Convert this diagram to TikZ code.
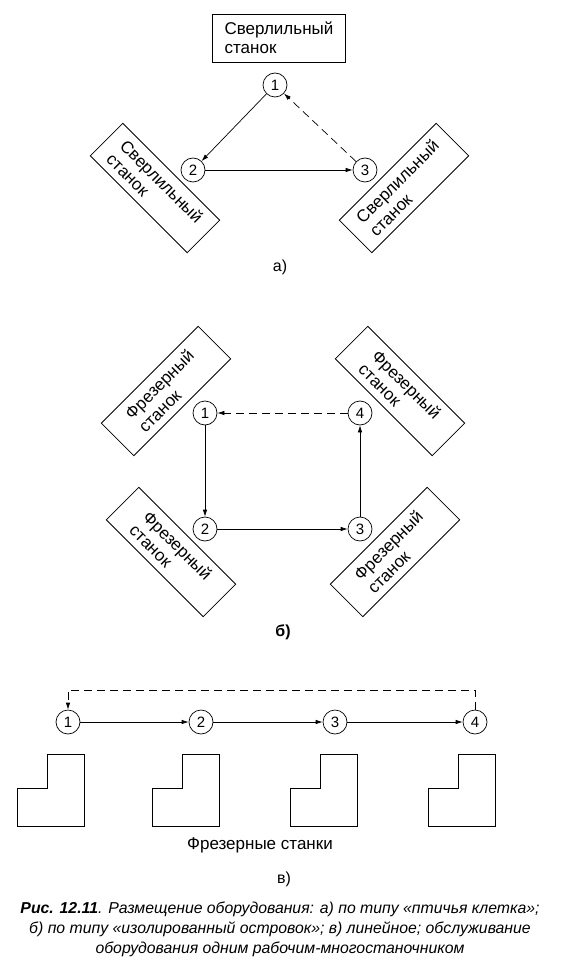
\documentclass[tikz,border=0pt]{standalone}
\usepackage{fontspec}
\setmainfont{Liberation Sans}
\usetikzlibrary{arrows.meta}
\tikzset{
  %% machine boxes
  stanok/.style={rectangle, draw, line width=0.8pt, minimum width=137pt,
                 minimum height=46pt, align=left, inner sep=2pt,
                 font=\fontsize{17}{19}\selectfont},
  %% work positions
  wpos/.style={circle, draw, line width=0.7pt, minimum size=24pt,
              inner sep=0pt, font=\fontsize{15}{15}\selectfont},
  %% connectors
  flow/.style={-{Latex[length=7pt,width=4.5pt]}, line width=0.7pt},
  back/.style={flow, dash pattern=on 8pt off 5pt},
  lmach/.style={draw, line width=0.9pt},
  lbl/.style={font=\fontsize{16}{18}\selectfont},
}

\begin{document}
\begin{tikzpicture}[x=1pt, y=-1pt]
\useasboundingbox (0,0) rectangle (560,973);

%% =============================================================
%%  a)  bird cage
%% =============================================================
\node[stanok, minimum width=133pt, minimum height=48pt] (aTop) at (279,38)
  {Сверлильный\\станок};
\node[stanok, rotate=-45] (aLeft)  at (155,188) {Сверлильный\\станок};
\node[stanok, rotate=45]  (aRight) at (404,188) {Сверлильный\\станок};

\node[wpos] (a1) at (275,85)  {1};
\node[wpos] (a2) at (193,170) {2};
\node[wpos] (a3) at (365,170) {3};

\draw[flow] (a1) -- (a2);
\draw[flow] (a2) -- (a3);
\draw[back] (a3) -- (a1);

\node[lbl] (aCap) at (280,267) {а)};

%% =============================================================
%%  b)  isolated island
%% =============================================================
\node[stanok, rotate=45]  (bTL) at (166,391) {Фрезерный\\станок};
\node[stanok, rotate=-45] (bTR) at (400,391) {Фрезерный\\станок};
\node[stanok, rotate=-45] (bBL) at (171,552) {Фрезерный\\станок};
\node[stanok, rotate=45]  (bBR) at (395,552) {Фрезерный\\станок};

\node[wpos] (b1) at (205,413) {1};
\node[wpos] (b4) at (360,413) {4};
\node[wpos] (b2) at (205,529) {2};
\node[wpos] (b3) at (360,529) {3};

\draw[flow] (b1) -- (b2);
\draw[flow] (b2) -- (b3);
\draw[flow] (b3) -- (b4);
\draw[back] (b4) -- (b1);

\node[lbl, font=\bfseries\fontsize{16}{18}\selectfont] (bCap) at (283,632) {б)};

%% =============================================================
%%  c)  linear
%% =============================================================
\node[wpos] (c1) at (68,722)  {1};
\node[wpos] (c2) at (201,722) {2};
\node[wpos] (c3) at (335,722) {3};
\node[wpos] (c4) at (475,722) {4};

\draw[flow] (c1) -- (c2);
\draw[flow] (c2) -- (c3);
\draw[flow] (c3) -- (c4);
\coordinate (cTop) at (68,690);
\draw[back] (c4.north) |- (cTop) -- (c1.north);

%% -- L-shaped milling machines --
\foreach \mx in {17,152,290,428}{
  \draw[lmach] (\mx+30,754) -- (\mx+67,754) -- (\mx+67,826)
               -- (\mx,826) -- (\mx,788) -- (\mx+30,788) -- cycle;
}

\node[lbl, font=\fontsize{17}{19}\selectfont] (cName) at (260,845) {Фрезерные станки};
\node[lbl] (cCap)  at (284,879) {в)};

%% =============================================================
%%  caption
%% =============================================================
\node[align=center, font=\itshape\fontsize{15.8}{20}\selectfont] (fig) at (280,929)
  {\textbf{Рис. 12.11}. Размещение оборудования: а) по типу «птичья клетка»;\\
   б) по типу «изолированный островок»; в) линейное; обслуживание\\
   оборудования одним рабочим-многостаночником};

\end{tikzpicture}
\end{document}
